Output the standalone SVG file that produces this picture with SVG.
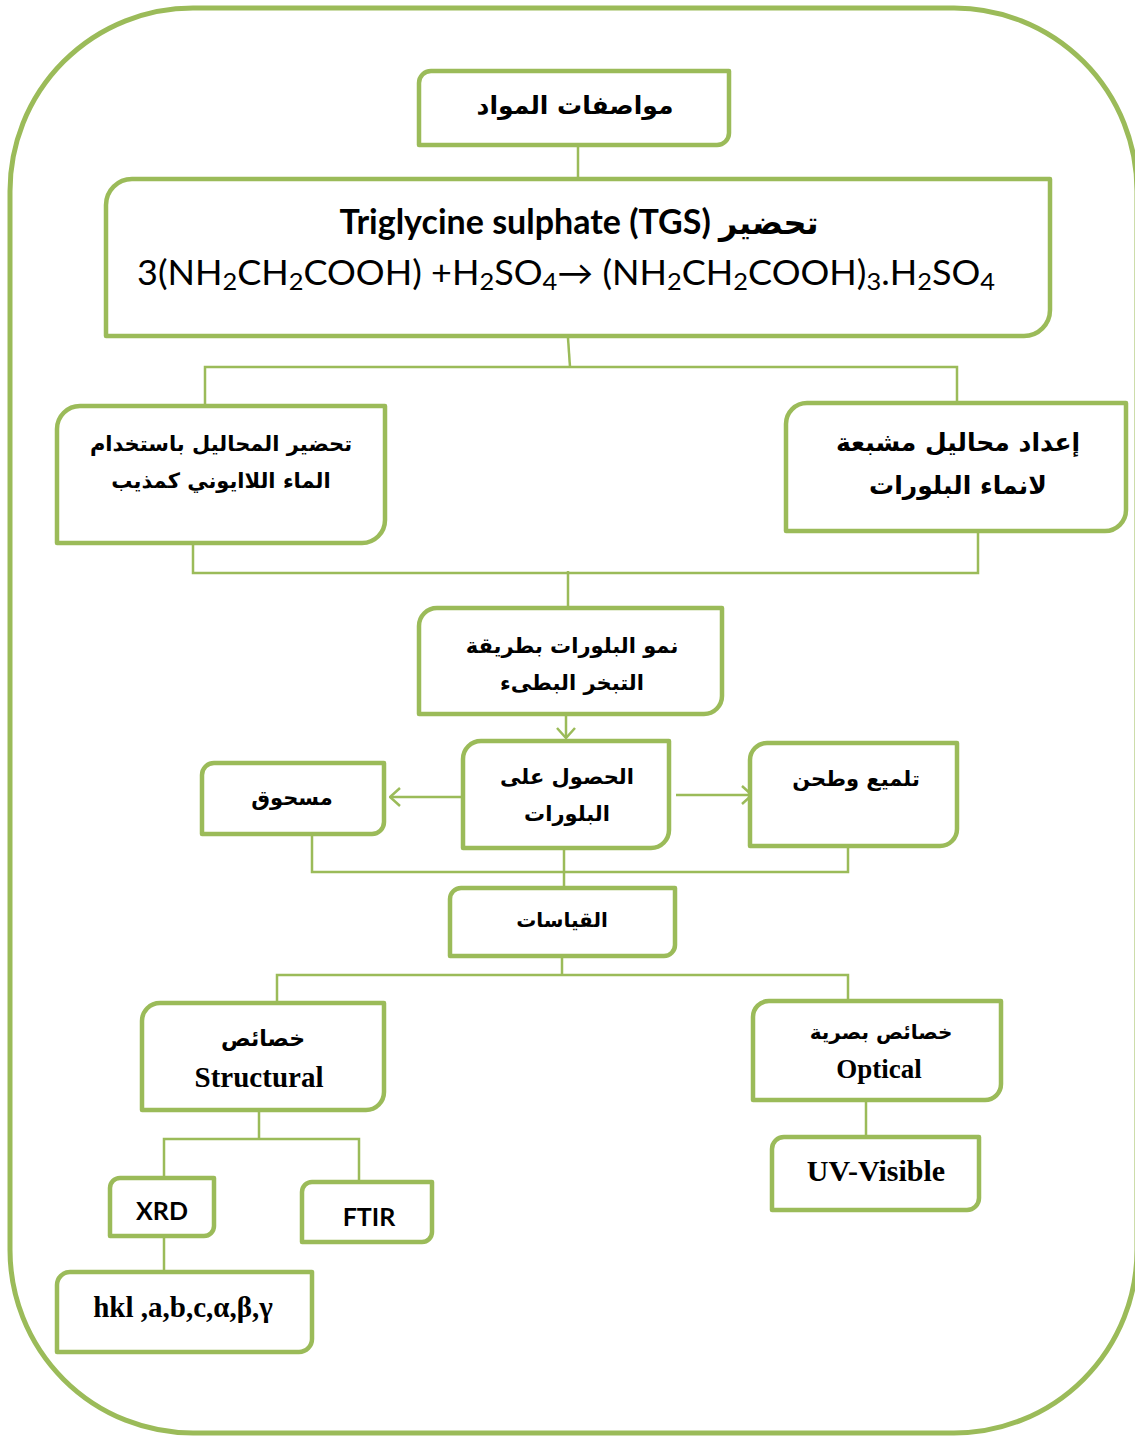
<svg xmlns="http://www.w3.org/2000/svg" width="1135" height="1436" viewBox="0 0 1135 1436">
<defs>
<style>
.box{fill:#fff;stroke:#9BBB59;stroke-width:4.5;stroke-linejoin:round}
.con{fill:none;stroke:#9BBB59;stroke-width:2.5}
.ar{font-family:"DejaVu Sans","Liberation Sans",sans-serif;font-weight:bold;fill:#000;text-anchor:middle}
.tm{font-family:"Liberation Serif",serif;font-weight:bold;fill:#000;text-anchor:middle}
.cb{font-family:Lato,"Liberation Sans",sans-serif;fill:#000}
</style>
<marker id="chev" viewBox="0 0 12 20" refX="11" refY="10" markerWidth="12" markerHeight="20" markerUnits="userSpaceOnUse" orient="auto">
<path d="M1,1 L11,10 L1,19" fill="none" stroke="#9BBB59" stroke-width="2.5"/>
</marker>
</defs>
<rect x="10" y="8" width="1127" height="1425" rx="183" ry="183" fill="none" stroke="#9BBB59" stroke-width="5"/>
<g id="connectors">
<line class="con" x1="578" y1="145" x2="578" y2="180"/>
<polyline class="con" points="568,338 570,367"/>
<polyline class="con" points="205,405 205,367 957,367 957,403"/>
<polyline class="con" points="193,543 193,573 978,573 978,531"/>
<line class="con" x1="568" y1="571" x2="568" y2="608"/>
<line class="con" x1="566" y1="714" x2="566" y2="738" marker-end="url(#chev)"/>
<line class="con" x1="463" y1="797" x2="390" y2="797" marker-end="url(#chev)"/>
<line class="con" x1="676" y1="795" x2="752" y2="795" marker-end="url(#chev)"/>
<polyline class="con" points="312,834 312,872 848,872 848,846"/>
<line class="con" x1="564" y1="848" x2="564" y2="888"/>
<line class="con" x1="562" y1="956" x2="562" y2="975"/>
<polyline class="con" points="277,1003 277,975 848,975 848,1001"/>
<line class="con" x1="866" y1="1100" x2="866" y2="1137"/>
<line class="con" x1="259" y1="1110" x2="259" y2="1139"/>
<polyline class="con" points="164,1178 164,1139 359,1139 359,1182"/>
<line class="con" x1="164" y1="1236" x2="164" y2="1272"/>
</g>
<g id="n-specs">
<path class="box" d="M431,71 H729 V133 A12,12 0 0 1 717,145 H419 V83 A12,12 0 0 1 431,71 Z"/>
<text class="ar" x="575" y="114" font-size="25">مواصفات المواد</text>
</g>
<g id="n-tgs">
<path class="box" d="M132,179 H1050 V310 A26,26 0 0 1 1024,336 H106 V205 A26,26 0 0 1 132,179 Z"/>
<text x="579" y="234" text-anchor="middle" font-size="34" fill="#000"><tspan font-family="Lato,'Liberation Sans',sans-serif" font-weight="bold">Triglycine sulphate (TGS) </tspan><tspan font-family="'DejaVu Sans',sans-serif" font-weight="bold" font-size="32">تحضير</tspan></text>
<text class="cb" x="137" y="285" font-size="34" textLength="858" lengthAdjust="spacingAndGlyphs">3(NH<tspan font-size="24" dy="5">2</tspan><tspan dy="-5">CH</tspan><tspan font-size="24" dy="5">2</tspan><tspan dy="-5">COOH) +H</tspan><tspan font-size="24" dy="5">2</tspan><tspan dy="-5">SO</tspan><tspan font-size="24" dy="5">4</tspan><tspan dy="-5">→ (NH</tspan><tspan font-size="24" dy="5">2</tspan><tspan dy="-5">CH</tspan><tspan font-size="24" dy="5">2</tspan><tspan dy="-5">COOH)</tspan><tspan font-size="24" dy="5">3</tspan><tspan dy="-5">.H</tspan><tspan font-size="24" dy="5">2</tspan><tspan dy="-5">SO</tspan><tspan font-size="24" dy="5">4</tspan></text>
</g>
<g id="n-solvent">
<path class="box" d="M80,406 H385 V520 A23,23 0 0 1 362,543 H57 V429 A23,23 0 0 1 80,406 Z"/>
<text class="ar" x="221" y="451" font-size="21">تحضير المحاليل باستخدام</text>
<text class="ar" x="221" y="488" font-size="21">الماء اللاايوني كمذيب</text>
</g>
<g id="n-saturated">
<path class="box" d="M807,403 H1126 V510 A21,21 0 0 1 1105,531 H786 V424 A21,21 0 0 1 807,403 Z"/>
<text class="ar" x="958" y="451" font-size="25">إعداد محاليل مشبعة</text>
<text class="ar" x="958" y="494" font-size="25">لانماء البلورات</text>
</g>
<g id="n-growth">
<path class="box" d="M437,608 H722 V696 A18,18 0 0 1 704,714 H419 V626 A18,18 0 0 1 437,608 Z"/>
<text class="ar" x="572" y="653" font-size="21">نمو البلورات بطريقة</text>
<text class="ar" x="572" y="690" font-size="21">التبخر البطىء</text>
</g>
<g id="n-crystals">
<path class="box" d="M481,741 H669 V830 A18,18 0 0 1 651,848 H463 V759 A18,18 0 0 1 481,741 Z"/>
<text class="ar" x="567" y="784" font-size="21">الحصول على</text>
<text class="ar" x="567" y="821" font-size="21">البلورات</text>
</g>
<g id="n-powder">
<path class="box" d="M214,763 H384 V822 A12,12 0 0 1 372,834 H202 V775 A12,12 0 0 1 214,763 Z"/>
<text class="ar" x="292" y="805" font-size="21">مسحوق</text>
</g>
<g id="n-polish">
<path class="box" d="M767,743 H957 V829 A17,17 0 0 1 940,846 H750 V760 A17,17 0 0 1 767,743 Z"/>
<text class="ar" x="856" y="786" font-size="21">تلميع وطحن</text>
</g>
<g id="n-measure">
<path class="box" d="M461,888 H675 V945 A11,11 0 0 1 664,956 H450 V899 A11,11 0 0 1 461,888 Z"/>
<text class="ar" x="562" y="927" font-size="20">القياسات</text>
</g>
<g id="n-structural">
<path class="box" d="M160,1003 H384 V1092 A18,18 0 0 1 366,1110 H142 V1021 A18,18 0 0 1 160,1003 Z"/>
<text class="ar" x="263" y="1046" font-size="22">خصائص</text>
<text class="tm" x="259" y="1087" font-size="29">Structural</text>
</g>
<g id="n-optical">
<path class="box" d="M769,1001 H1001 V1084 A16,16 0 0 1 985,1100 H753 V1017 A16,16 0 0 1 769,1001 Z"/>
<text class="ar" x="881" y="1039" font-size="20">خصائص بصرية</text>
<text class="tm" x="879" y="1078" font-size="27">Optical</text>
</g>
<g id="n-uv">
<path class="box" d="M784,1137 H979 V1198 A12,12 0 0 1 967,1210 H772 V1149 A12,12 0 0 1 784,1137 Z"/>
<text class="tm" x="876" y="1181" font-size="30">UV-Visible</text>
</g>
<g id="n-xrd">
<path class="box" d="M120,1178 H214 V1226 A10,10 0 0 1 204,1236 H110 V1188 A10,10 0 0 1 120,1178 Z"/>
<text x="162" y="1220" text-anchor="middle" font-family="Lato,'Liberation Sans',sans-serif" font-weight="bold" font-size="25">XRD</text>
</g>
<g id="n-ftir">
<path class="box" d="M312,1182 H432 V1232 A10,10 0 0 1 422,1242 H302 V1192 A10,10 0 0 1 312,1182 Z"/>
<text x="369" y="1226" text-anchor="middle" font-family="Lato,'Liberation Sans',sans-serif" font-weight="bold" font-size="25">FTIR</text>
</g>
<g id="n-hkl">
<path class="box" d="M70,1272 H312 V1339 A13,13 0 0 1 299,1352 H57 V1285 A13,13 0 0 1 70,1272 Z"/>
<text class="tm" x="183" y="1317" font-size="29">hkl ,a,b,c,α,β,γ</text>
</g>
</svg>
